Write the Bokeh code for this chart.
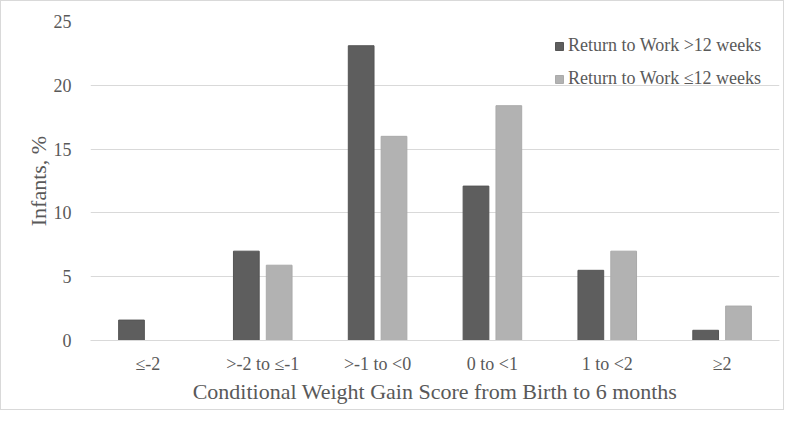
from bokeh.plotting import figure
from bokeh.models import FactorRange, Legend, LegendItem, ColumnDataSource
from bokeh.transform import dodge
from bokeh.embed import file_html
from bokeh.resources import INLINE

categories = ["\u2264-2", ">-2 to \u2264-1", ">-1 to <0", "0 to <1", "1 to <2", "\u22652"]
over_12_weeks = [1.6, 7.0, 23.1, 12.1, 5.5, 0.8]
upto_12_weeks = [0.0, 5.9, 16.0, 18.4, 7.0, 2.7]
series_labels = ["Return to Work >12 weeks", "Return to Work \u226412 weeks"]
y_ticks = [0, 5, 10, 15, 20, 25]

FONT = "Liberation Serif"
TXT = "#595959"
GRID = "#d9d9d9"

src = ColumnDataSource(dict(cat=categories, a=over_12_weeks, b=upto_12_weeks))

p = figure(x_range=FactorRange(*categories, range_padding=0), y_range=(0, 25),
           width=784, height=410, output_backend="svg", toolbar_location=None,
           min_border_left=89, min_border_right=6, min_border_top=20, min_border_bottom=71)
p.styles = {"border": "1px solid #d9d9d9", "box-sizing": "border-box"}

r1 = p.vbar(x=dodge("cat", -0.143, range=p.x_range), top="a", width=0.224, source=src,
            fill_color="#5e5e5e", line_color="#555555", line_width=1)
r2 = p.vbar(x=dodge("cat", 0.143, range=p.x_range), top="b", width=0.224, source=src,
            fill_color="#b2b2b2", line_color="#aaaaaa", line_width=1)

p.outline_line_color = None
p.xgrid.grid_line_color = None
p.ygrid.grid_line_color = GRID
p.ygrid.grid_line_width = 1

p.yaxis.ticker = y_ticks
p.yaxis.axis_line_color = None
p.yaxis.major_tick_line_color = None
p.yaxis.minor_tick_line_color = None
p.yaxis.major_label_standoff = 13
p.yaxis.axis_label = "Infants, %"
p.yaxis.axis_label_standoff = 0

p.xaxis.axis_line_color = GRID
p.xaxis.major_tick_line_color = None
p.xaxis.minor_tick_line_color = None
p.xaxis.major_label_standoff = 7
p.xaxis.axis_label = "Conditional Weight Gain Score from Birth to 6 months"
p.xaxis.axis_label_standoff = 2

for ax in (p.xaxis, p.yaxis):
    ax.major_label_text_font = FONT
    ax.major_label_text_font_size = "18px"
    ax.major_label_text_color = TXT
    ax.axis_label_text_font = FONT
    ax.axis_label_text_font_size = "22px"
    ax.axis_label_text_font_style = "normal"
    ax.axis_label_text_color = TXT

legend = Legend(items=[LegendItem(label=series_labels[0], renderers=[r1]),
                       LegendItem(label=series_labels[1], renderers=[r2])],
                location=(464, 251), orientation="vertical",
                glyph_width=10, glyph_height=10, label_standoff=4,
                label_text_font=FONT, label_text_font_size="18px", label_text_color=TXT,
                label_height=20, spacing=12, padding=0, margin=0,
                border_line_color=None, background_fill_alpha=0)
p.add_layout(legend, "center")

open("out.html", "w").write(file_html(p, INLINE))
